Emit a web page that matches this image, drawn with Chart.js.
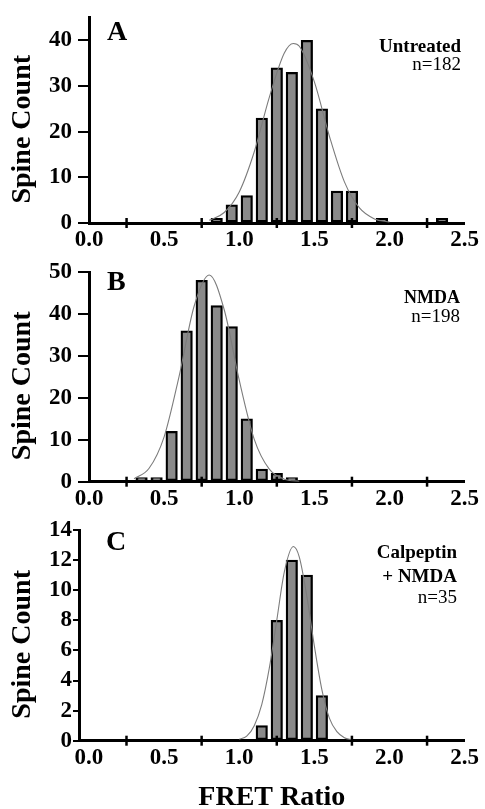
<!DOCTYPE html>
<html><head><meta charset="utf-8">
<script src="https://cdn.jsdelivr.net/npm/chart.js@4.4.1/dist/chart.umd.min.js"></script>
<style>
html,body{margin:0;padding:0;background:#fff;overflow:hidden;width:485px;height:809px;position:relative;}
canvas{position:absolute;left:0;}
</style></head><body>
<canvas id="cA" width="485" height="262" style="top:0px"></canvas>
<canvas id="cB" width="485" height="270" style="top:250px"></canvas>
<canvas id="cC" width="485" height="310" style="top:505px"></canvas>
<script>
// ---- tick labels ----
const xTickLabels = [0.0, 0.5, 1.0, 1.5, 2.0, 2.5];
const xTickMarks = [0.25, 0.75, 1.25, 1.75, 2.25];
const yTicksA = [0, 10, 20, 30, 40];
const yTicksB = [0, 10, 20, 30, 40, 50];
const yTicksC = [0, 2, 4, 6, 8, 10, 12, 14];

// ---- Panel A: Untreated ----
const binsA = [0.85, 0.95, 1.05, 1.15, 1.25, 1.35, 1.45, 1.55, 1.65, 1.75, 1.95, 2.35];
const countsA = [1, 4, 6, 23, 34, 33, 40, 25, 7, 7, 1, 1];
const fitXA = [0.80, 0.90, 1.00, 1.10, 1.20, 1.30, 1.36, 1.40, 1.50, 1.60, 1.70, 1.80, 1.90, 2.00];
const fitYA = [0.6, 2.3, 6.8, 15.6, 27.5, 37.2, 39.3, 38.7, 30.9, 19.0, 9.0, 3.3, 0.9, 0.2];
const textA = ['Untreated', 'n=182'];

// ---- Panel B: NMDA ----
const binsB = [0.35, 0.45, 0.55, 0.65, 0.75, 0.85, 0.95, 1.05, 1.15, 1.25, 1.35];
const countsB = [1, 1, 12, 36, 48, 42, 37, 15, 3, 2, 1];
const fitXB = [0.30, 0.40, 0.50, 0.60, 0.70, 0.80, 0.90, 1.00, 1.10, 1.20, 1.30, 1.40];
const fitYB = [0.7, 3.2, 10.7, 25.2, 41.9, 49.3, 41.0, 24.2, 10.1, 3.0, 0.6, 0.1];
const textB = ['NMDA', 'n=198'];

// ---- Panel C: Calpeptin + NMDA ----
const binsC = [1.15, 1.25, 1.35, 1.45, 1.55];
const countsC = [1, 8, 12, 11, 3];
const fitXC = [1.00, 1.05, 1.10, 1.15, 1.20, 1.25, 1.30, 1.36, 1.40, 1.45, 1.50, 1.55, 1.60, 1.65, 1.70, 1.75];
const fitYC = [0.1, 0.3, 1.0, 2.4, 4.8, 8.0, 11.2, 12.9, 12.2, 9.6, 6.3, 3.4, 1.5, 0.6, 0.2, 0.05];
const textC = ['Calpeptin', '+ NMDA', 'n=35'];

const yTitle = 'Spine Count';
const xTitle = 'FRET Ratio';

const SERIF = "'Liberation Serif','Times New Roman',serif";

const crossTicks = {
  id: 'crossTicks',
  afterDraw(chart) {
    const {ctx, chartArea} = chart;
    const x = chart.scales.x;
    const y0 = chartArea.bottom;
    ctx.save();
    ctx.strokeStyle = '#000';
    ctx.lineWidth = 2.5;
    xTickMarks.forEach(v => {
      const px = x.getPixelForValue(v);
      ctx.beginPath(); ctx.moveTo(px, y0 - 5); ctx.lineTo(px, y0 + 5); ctx.stroke();
    });
    ctx.restore();
  }
};

function panelPlugin(p) {
  return {
    id: 'panelText',
    afterDraw(chart) {
      const {ctx, chartArea} = chart;
      ctx.save();
      ctx.fillStyle = '#000';
      // rotated y-axis title
      ctx.save();
      ctx.translate(23, (chartArea.top + chartArea.bottom) / 2 + 9);
      ctx.rotate(-Math.PI / 2);
      ctx.textAlign = 'center';
      ctx.textBaseline = 'middle';
      ctx.font = `bold 28px ${SERIF}`;
      ctx.fillText(yTitle, 0, 0);
      ctx.restore();
      // panel letter
      ctx.textBaseline = 'alphabetic';
      ctx.textAlign = 'left';
      ctx.font = `bold 28px ${SERIF}`;
      ctx.fillText(p.letter, p.letterX, chartArea.top + p.letterDy);
      // condition labels
      ctx.textAlign = 'right';
      p.texts.forEach((t, i) => {
        const st = p.styles[i];
        ctx.font = `${st.bold ? 'bold ' : ''}${st.size}px ${SERIF}`;
        ctx.fillText(t, p.right, chartArea.top + st.dy);
      });
      ctx.restore();
    }
  };
}

function makeChart(id, c) {
  const bars = c.bins.map((b, i) => ({x: b, y: c.counts[i]}));
  const fit = c.fitX.map((v, i) => ({x: v, y: c.fitY[i]}));
  return new Chart(document.getElementById(id), {
    type: 'bar',
    data: {
      datasets: [
        {type: 'line', data: fit, borderColor: '#7c7c7c', borderWidth: 1.1, pointRadius: 0,
         cubicInterpolationMode: 'monotone', fill: false, order: 0},
        {type: 'bar', data: bars, backgroundColor: '#8a8a8a', borderColor: '#000', borderWidth: 2.3,
         barThickness: 11.5, borderSkipped: false, order: 1}
      ]
    },
    options: {
      responsive: false, animation: false, devicePixelRatio: 1,
      layout: {padding: {top: c.padTop, right: 18.5, left: 0, bottom: 0}},
      plugins: {legend: {display: false}, tooltip: {enabled: false}},
      scales: {
        x: {
          type: 'linear', min: c.xMin, max: 2.5, offset: false,
          grid: {display: true, drawOnChartArea: false, drawTicks: false, offset: false},
          border: {display: true, color: '#000', width: 3},
          ticks: {color: '#000', font: {family: SERIF, size: 23, weight: 'bold', lineHeight: 1},
                  padding: 6, maxRotation: 0, autoSkip: false,
                  callback: v => Number(v).toFixed(1)},
          afterBuildTicks: s => { s.ticks = xTickLabels.map(v => ({value: v})); },
          afterFit: s => { s.height = c.xHeight; },
          title: c.xTitle ? {display: true, text: c.xTitle, color: '#000',
                  font: {family: SERIF, size: 28, weight: 'bold'}, padding: {top: 0, bottom: 0}}
                : {display: false}
        },
        y: {
          type: 'linear', min: 0, max: c.yMax,
          grid: {display: true, drawOnChartArea: false, drawTicks: true, tickLength: c.tickLen,
                 color: '#000', lineWidth: 2},
          border: {display: true, color: '#000', width: 3},
          ticks: {color: '#000', font: {family: SERIF, size: 23, weight: 'bold', lineHeight: 1},
                  padding: c.tickPad},
          afterBuildTicks: s => { s.ticks = c.yTicks.map(v => ({value: v})); },
          afterFit: s => { s.width = c.yWidth; },
          title: {display: false, text: yTitle}
        }
      }
    },
    plugins: [crossTicks, panelPlugin(c.panel)]
  });
}

makeChart('cA', {
  bins: binsA, counts: countsA, fitX: fitXA, fitY: fitYA, yTicks: yTicksA, yMax: 45,
  xMin: 0, padTop: 13, xHeight: 39, yWidth: 89, tickLen: 11, tickPad: 6,
  panel: {letter: 'A', letterX: 107, letterDy: 22, right: 461, texts: textA,
          styles: [{bold: true, size: 19, dy: 34}, {bold: false, size: 19, dy: 52}]}
});
makeChart('cB', {
  bins: binsB, counts: countsB, fitX: fitXB, fitY: fitYB, yTicks: yTicksB, yMax: 50,
  xMin: 0, padTop: 22, xHeight: 38.3, yWidth: 89, tickLen: 11, tickPad: 6,
  panel: {letter: 'B', letterX: 107, letterDy: 18, right: 460, texts: textB,
          styles: [{bold: true, size: 18, dy: 31}, {bold: false, size: 19, dy: 50}]}
});
makeChart('cC', {
  bins: binsC, counts: countsC, fitX: fitXC, fitY: fitYC, yTicks: yTicksC, yMax: 14,
  xMin: -0.066, padTop: 25, xHeight: 74.3, yWidth: 79, tickLen: 6, tickPad: 1, xTitle: xTitle,
  panel: {letter: 'C', letterX: 106, letterDy: 20, right: 457, texts: textC,
          styles: [{bold: true, size: 19, dy: 28}, {bold: true, size: 19, dy: 51.5}, {bold: false, size: 19, dy: 73}]}
});
</script>
</body></html>
